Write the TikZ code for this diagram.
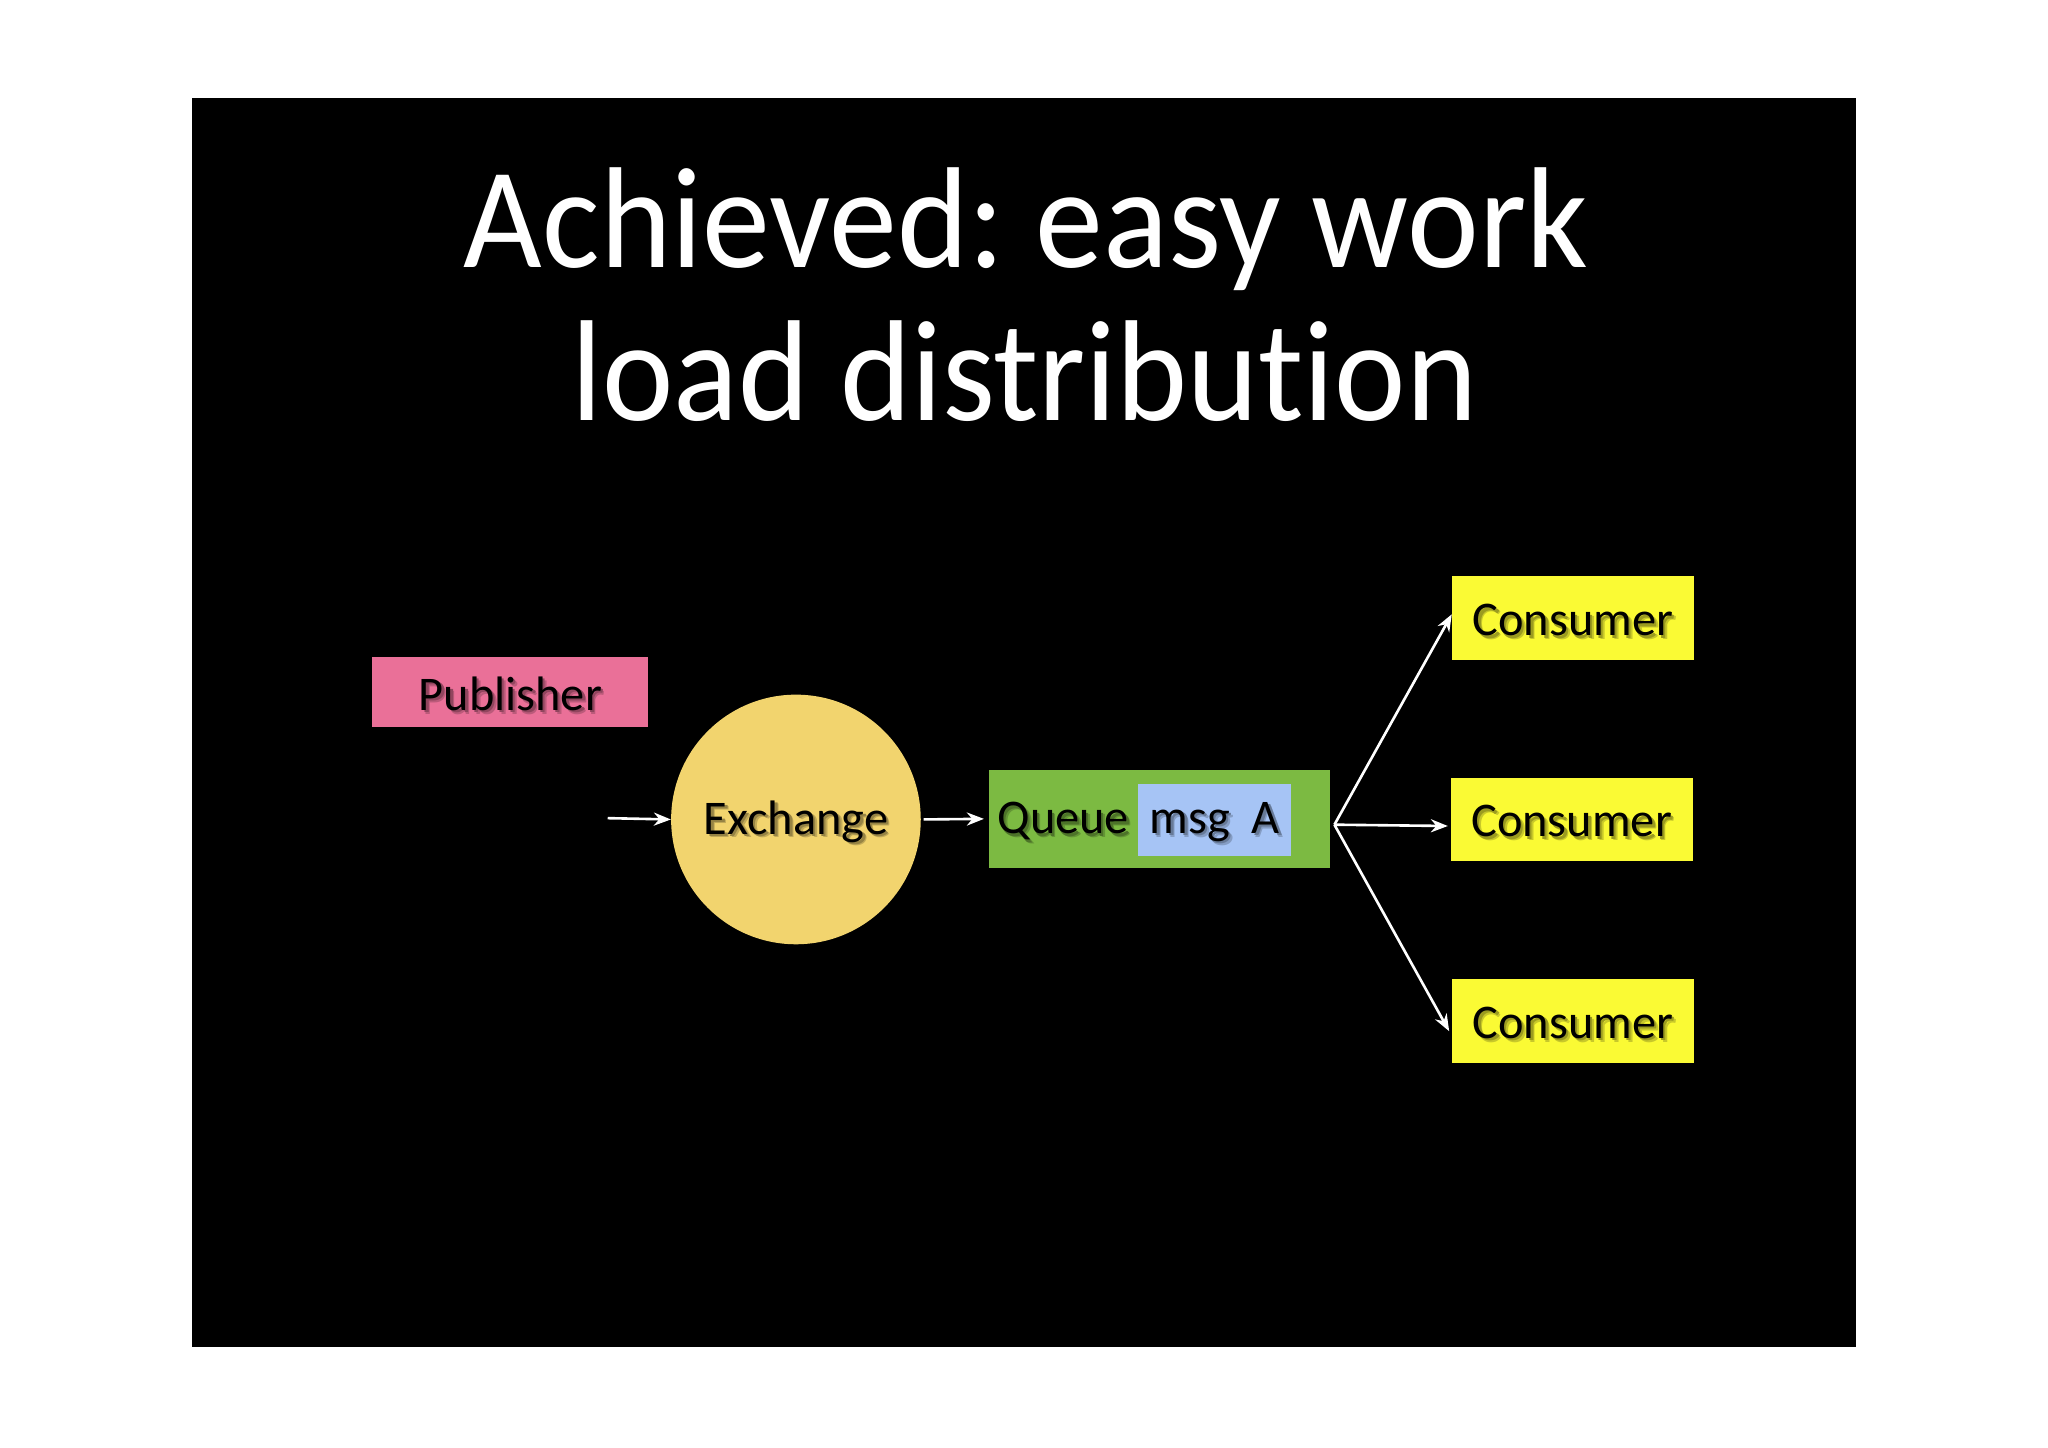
\documentclass[tikz,border=0pt]{standalone}
\usepackage{fontspec}
\setmainfont{Carlito}[Ligatures={NoCommon,NoRare,NoContextual}]
\usetikzlibrary{arrows.meta}
\definecolor{pinkbox}{RGB}{234,112,152}
\definecolor{exch}{RGB}{242,212,110}
\definecolor{queuegreen}{RGB}{124,186,66}
\definecolor{msgblue}{RGB}{166,196,245}
\definecolor{consyellow}{RGB}{250,250,52}
\newcommand\shd[2]{\raisebox{-3pt}[\height][\depth]{\leavevmode\rlap{\hspace{3pt}\raisebox{-3pt}{\color{#1!80!black}#2}}\rlap{\hspace{1.8pt}\raisebox{-1.8pt}{\color{#1!62!black}#2}}#2}}
\tikzset{
  box/.style={draw=none, inner sep=0pt, text=black, font=\fontsize{37}{40}\selectfont},
  arr/.style={draw=white, line width=2pt, -{Stealth[length=13pt, width=10pt]}},
  ttl/.style={text=white, inner sep=0pt, anchor=base, font=\fontsize{110}{120}\selectfont}
}
\begin{document}
\begin{tikzpicture}[x=1pt,y=-1pt]
\useasboundingbox (0,0) rectangle (1567,1107.2);
\fill[white] (0,0) rectangle (1567,1107.2);
\fill[black] (147,75) rectangle (1420,1031);
% title
\node[ttl] (t1) at (785,205) {\scalebox{0.945}[1]{Achieved:\kern-8pt{} easy work}};
\node[ttl] (t2) at (784,322) {\scalebox{0.94}[1]{load distribution}};
% nodes
\node[box, fill=pinkbox, minimum width=211pt, minimum height=53pt] (pub) at (390.5,529.5) {\shd{pinkbox}{Publisher}};
\node[box, circle, fill=exch, minimum size=191pt] (ex) at (609,627) {\shd{exch}{Exchange}};
\node[box, fill=queuegreen, minimum width=261pt, minimum height=75pt] (q) at (887.5,626.5) {};
\node[box, fill=msgblue, minimum width=117pt, minimum height=55pt] (msg) at (929.5,627.5) {\shd{msgblue}{msg\ \ A}};
\node[box, anchor=west] (qlbl) at (763,627) {\shd{queuegreen}{Queue}};
\node[box, fill=consyellow, minimum width=185pt, minimum height=64pt] (c1) at (1203.5,473) {\shd{consyellow}{Consumer}};
\node[box, fill=consyellow, minimum width=185pt, minimum height=64pt] (c2) at (1202.5,627) {\shd{consyellow}{Consumer}};
\node[box, fill=consyellow, minimum width=185pt, minimum height=64pt] (c3) at (1203.5,781) {\shd{consyellow}{Consumer}};
% connectors
\coordinate (src) at (465,626);
\coordinate (fan) at (1021,631);
\draw[arr] (src) -- (ex.west);
\draw[arr, shorten <=2pt, shorten >=4pt] (ex.east) -- (q.west);
\draw[arr] (fan) -- ([shift={(0,-3)}]c1.west);
\draw[arr] (fan) -- ([shift={(-2,5)}]c2.west);
\draw[arr] (fan) -- ([shift={(-2,8)}]c3.west);
\end{tikzpicture}
\end{document}
